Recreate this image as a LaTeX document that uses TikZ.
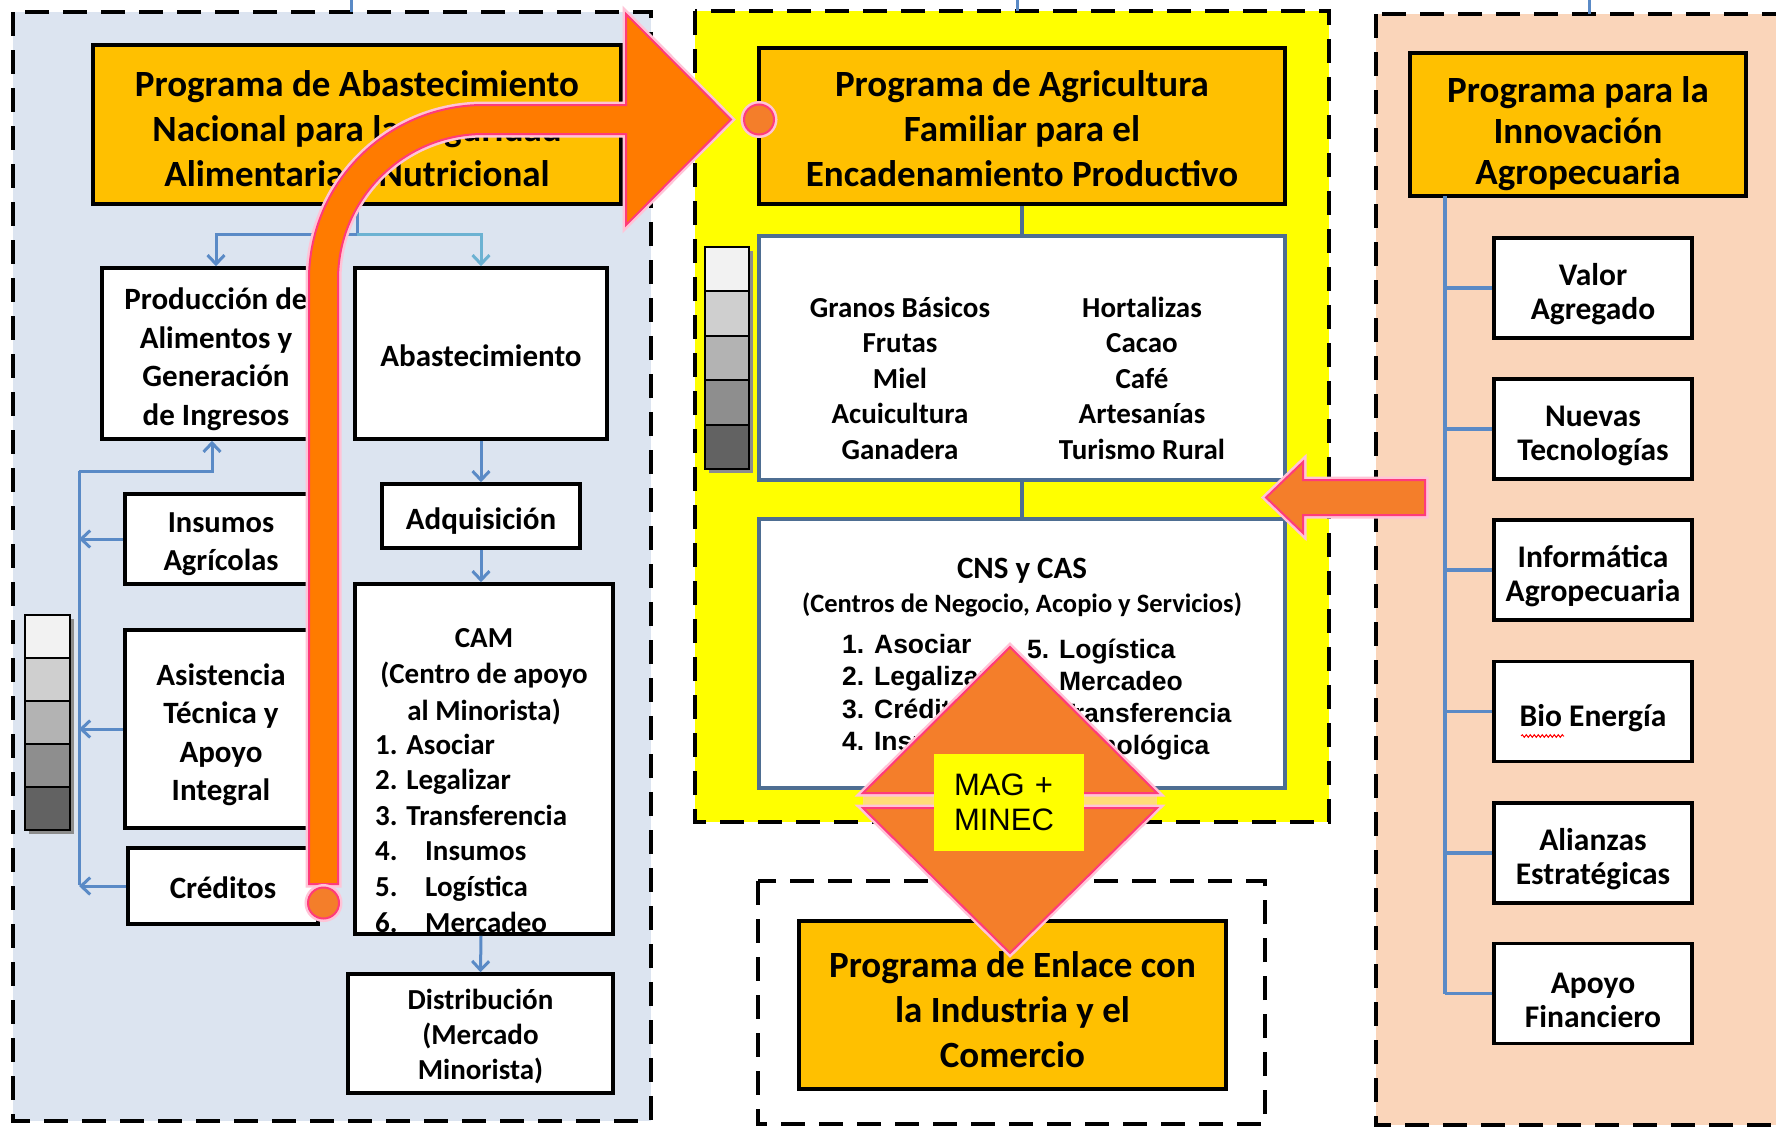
\documentclass[tikz,border=0pt]{standalone}
\usepackage{fontspec}
\setmainfont{Carlito}
\newfontfamily\arialfont{Liberation Sans}
\usetikzlibrary{arrows.meta,decorations.pathmorphing}
\definecolor{leftbg}{HTML}{DCE4F0}
\definecolor{rightbg}{HTML}{FAD5BA}
\definecolor{midbg}{HTML}{FFFF00}
\definecolor{titlefill}{HTML}{FFC000}
\definecolor{conblue}{HTML}{5A8AC6}
\definecolor{conteal}{HTML}{6CB2D2}
\definecolor{boxblue}{HTML}{4E6E92}
\definecolor{arrorange}{HTML}{FF7B00}
\definecolor{dorange}{HTML}{F47E2A}
\definecolor{pinkedge}{HTML}{FF3B7A}
\definecolor{stripecol}{HTML}{FFDC78}
\definecolor{gA}{HTML}{F2F2F2}
\definecolor{gB}{HTML}{CFCFCF}
\definecolor{gC}{HTML}{B3B3B3}
\definecolor{gD}{HTML}{8E8E8E}
\definecolor{gE}{HTML}{626262}
\begin{document}
\begin{tikzpicture}[x=1pt,y=-1pt,
  panel/.style={draw=black, line width=4pt, dash pattern=on 24pt off 14pt},
  titlebox/.style={draw=black, line width=4.5pt, fill=titlefill, inner sep=0pt},
  titletxt/.style={inner sep=0pt, align=center, font=\bfseries\fontsize{37}{45}\selectfont},
  wbox/.style={draw=black, line width=3.5pt, fill=white, inner sep=0pt},
  wtxt/.style={inner sep=0pt, align=center, font=\bfseries\fontsize{31}{38.5}\selectfont},
  rtxt/.style={wtxt, font=\bfseries\fontsize{31.5}{34}\selectfont},
  bbox/.style={draw=boxblue, line width=4pt, fill=white, inner sep=0pt},
  txt/.style={inner sep=0pt, font=\bfseries\fontsize{29}{35.5}\selectfont},
  conn/.style={draw=conblue, line width=3pt},
  connt/.style={draw=conteal, line width=3pt},
  mconn/.style={draw=boxblue, line width=3.5pt},
  arrowtipc/.style={-{Straight Barb[length=9pt,width=17pt]}},
  glow/.style={preaction={draw=pinkedge!30, line width=7pt}},
  orangeshape/.style={draw=pinkedge, line width=2pt, glow}
]
\clip (0,0) rectangle (1776,1127);
\fill[white] (0,0) rectangle (1776,1127);

% panels
\fill[leftbg] (13,12) rectangle (651,1121);
\draw[panel] (13,12) rectangle (651,1121);
\fill[midbg] (695,11) rectangle (1329,822);
\draw[panel] (695,11) rectangle (1329,822);
\fill[rightbg] (1376,14) rectangle (1800,1125);
\draw[panel] (1376,14) rectangle (1800,1125);
\draw[panel] (758,881) rectangle (1265,1124);

% top stubs
\coordinate (s1a) at (351,0); \coordinate (s1b) at (351,12);
\coordinate (s2a) at (1017,0); \coordinate (s2b) at (1017,11);
\coordinate (s3a) at (1589,0); \coordinate (s3b) at (1589,14);
\draw[conn] (s1a) -- (s1b);
\draw[conn] (s2a) -- (s2b);
\draw[conn] (s3a) -- (s3b);

% gray bars
\fill[black!45] (29,619) rectangle (74,834);
\foreach \i/\c in {0/gA,1/gB,2/gC,3/gD,4/gE}
  \filldraw[fill=\c, draw=black, line width=2pt] (25,615+43*\i) rectangle (70,658+43*\i);
\fill[black!45] (709,251) rectangle (753,473);
\foreach \i/\c in {0/gA,1/gB,2/gC,3/gD,4/gE}
  \filldraw[fill=\c, draw=black, line width=2pt] (705,247+44.4*\i) rectangle (749,291.4+44.4*\i);

% left panel
\node[titlebox, minimum width=528pt, minimum height=159pt] (t1) at (357,124.5) {};
\node[titletxt] (t1txt) at ([yshift=-7pt]t1.center)
  {Programa de Abastecimiento\\Nacional para la Seguridad\\Alimentaria y Nutricional};
\node[wbox, minimum width=228pt, minimum height=171pt] (prod) at (216,353.5) {};
\node[wtxt] (prodtxt) at ([yshift=-5.5pt]prod.center)
  {Producción de\\Alimentos y\\Generación\\de Ingresos};
\node[wbox, minimum width=252pt, minimum height=171pt] (abas) at (481,353.5) {};
\node[wtxt] (abastxt) at ([yshift=-2pt]abas.center) {Abastecimiento};
\node[wbox, minimum width=198pt, minimum height=64pt] (adq) at (481,516) {};
\node[wtxt] (adqtxt) at ([yshift=-5.5pt]adq.center) {Adquisición};
\node[wbox, minimum width=258pt, minimum height=350pt] (cam) at (484,759) {};
\node[txt, align=center, font=\bfseries\fontsize{29}{36.5}\selectfont] (camh) at (484,676.5)
  {CAM\\(Centro de apoyo\\al Minorista)};
\node[txt, align=left, anchor=west, font=\bfseries\fontsize{29}{35.6}\selectfont] (caml) at (375,833)
  {1. Asociar\\2. Legalizar\\3. Transferencia\\\makebox[50pt][l]{4.}Insumos\\\makebox[50pt][l]{5.}Logística\\\makebox[50pt][l]{6.}Mercadeo};
\node[wbox, minimum width=265pt, minimum height=119pt] (dist) at (480.5,1033.5) {};
\node[wtxt, font=\bfseries\fontsize{29}{35}\selectfont] (disttxt) at ([yshift=-3.5pt]dist.center)
  {Distribución\\(Mercado\\Minorista)};
\node[wbox, minimum width=192pt, minimum height=90pt] (ins) at (221,539) {};
\node[wtxt, font=\bfseries\fontsize{30.5}{37.5}\selectfont] (instxt) at ([yshift=-5pt]ins.center)
  {Insumos\\Agrícolas};
\node[wbox, minimum width=192pt, minimum height=198pt] (asis) at (221,729) {};
\node[wtxt] (asistxt) at ([yshift=-5.5pt]asis.center)
  {Asistencia\\Técnica y\\Apoyo\\Integral};
\node[wbox, minimum width=190pt, minimum height=76pt] (cred) at (223,886) {};
\node[wtxt] (credtxt) at ([yshift=-2pt]cred.center) {Créditos};

% left connectors
\coordinate (br1) at (357,234.5);
\draw[conn] (t1.south) -- (br1);
\draw[conn, arrowtipc] (br1) -| (prod.north);
\draw[connt, arrowtipc] (br1) -| (abas.north);
\draw[conn, arrowtipc] (abas.south) -- (adq.north);
\draw[conn, arrowtipc] (adq.south) -- ([xshift=-3pt]cam.north);
\draw[conn, arrowtipc] ([xshift=-3pt]cam.south) -- (dist.north);
\coordinate (fbtop) at (79,471);
\coordinate (fbbot) at (79,885);
\draw[conn] (fbtop) -- (fbbot);
\draw[conn, arrowtipc] (fbtop) -| ([xshift=-4pt]prod.south);
\draw[conn, arrowtipc] (ins.west) -- (ins.west -| fbtop);
\draw[conn, arrowtipc] (asis.west) -- (asis.west -| fbtop);
\draw[conn, arrowtipc] (cred.west) -- (cred.west -| fbtop);

% middle panel
\node[titlebox, minimum width=526pt, minimum height=156pt] (t2) at (1022,126) {};
\node[titletxt] (t2txt) at ([yshift=-2.5pt]t2.center)
  {Programa de Agricultura\\Familiar para el\\Encadenamiento Productivo};
\node[bbox, minimum width=526pt, minimum height=244pt] (prodbox) at (1022,358) {};
\node[txt, align=center] (pl) at (900,378)
  {Granos Básicos\\Frutas\\Miel\\Acuicultura\\Ganadera};
\node[txt, align=center] (pr) at (1142,378)
  {Hortalizas\\Cacao\\Café\\Artesanías\\Turismo Rural};
\node[bbox, minimum width=526pt, minimum height=269pt] (cns) at (1022,653.5) {};
\node[txt, font=\bfseries\fontsize{31}{36}\selectfont] (cnsh) at (1022,570.5) {CNS y CAS};
\node[txt, font=\bfseries\fontsize{26.5}{32}\selectfont] (cnss) at (1022,604.5) {(Centros de Negocio, Acopio y Servicios)};
\node[txt, align=left, anchor=west, font=\arialfont\bfseries\fontsize{26.5}{32.5}\selectfont] (cnsl) at (842,692.5)
  {1. Asociar\\2. Legalizar\\3. Créditos\\4. Insumos};
\node[txt, align=left, anchor=west, font=\arialfont\bfseries\fontsize{26.5}{32}\selectfont] (cnsr) at (1027,699.5)
  {5. Logística\\6. Mercadeo\\7. Transferencia\\\hphantom{7.\ }Tecnológica};
\draw[mconn] (t2.south) -- (prodbox.north);
\draw[mconn] (prodbox.south) -- (cns.north);

% bottom middle
\node[titlebox, minimum width=427pt, minimum height=168pt] (t4) at (1012.5,1005) {};
\node[titletxt] (t4txt) at ([yshift=-4.5pt]t4.center)
  {Programa de Enlace con\\la Industria y el\\Comercio};

% right panel
\node[titlebox, minimum width=336pt, minimum height=143pt] (t3) at (1578,124.5) {};
\node[titletxt, font=\bfseries\fontsize{37}{41}\selectfont] (t3txt) at ([yshift=-9pt]t3.center)
  {Programa para la\\Innovación\\Agropecuaria};
\foreach \n/\yy/\tx in {r1/288/{Valor\\Agregado}, r2/429/{Nuevas\\Tecnologías}, r3/570/{Informática\\Agropecuaria},
    r4/711.5/{Bio Energía}, r5/853/{Alianzas\\Estratégicas}, r6/993.5/{Apoyo\\Financiero}}{
  \node[wbox, minimum width=198pt, minimum height=100pt] (\n) at (1593,\yy) {};
  \node[rtxt] (\n txt) at ([yshift=-6.5pt]\n.center) {\tx};
}
\draw[red, line width=1pt, decorate, decoration={snake, amplitude=1.3pt, segment length=4pt}] (1521,736) -- (1564,736);
\coordinate (rv0) at (1445,196);
\coordinate (rv1) at (1445,993.5);
\draw[conn, line width=4pt] (rv0) -- (rv1);
\foreach \n in {r1,r2,r3,r4,r5,r6}
  \draw[conn, line width=3.5pt] (\n.west) -- (\n.west -| rv0);

% big orange arrow
\fill[arrorange, orangeshape]
  (309,884) -- (309,279.5) arc[start angle=180, end angle=270, radius=174.5]
  -- (626,105) -- (626,14) -- (731,119.5) -- (626,225) -- (626,134) -- (483.5,134)
  arc[start angle=270, end angle=180, radius=145.5] -- (338,884) -- cycle;
\node[circle, fill=dorange, orangeshape, minimum size=31pt, inner sep=0pt] (cA) at (323.5,903) {};
\node[circle, fill=dorange, orangeshape, minimum size=30pt, inner sep=0pt] (cB) at (759,119.5) {};

% small left arrow
\fill[dorange, orangeshape] (1425,480) -- (1303,480) -- (1303,462) -- (1266,497.5)
  -- (1303,533) -- (1303,515) -- (1425,515) -- cycle;

% diamond
\fill[stripecol] (863,793) rectangle (1157,808);
\fill[dorange, orangeshape] (863,793) -- (1010,647) -- (1157,793) -- cycle;
\fill[dorange, orangeshape] (863,808) -- (1157,808) -- (1010,953) -- cycle;
\node[fill=midbg, minimum width=150pt, minimum height=97pt, inner xsep=20pt, inner ysep=0pt,
  text width=110pt, align=left, font=\arialfont\fontsize{31}{35}\selectfont] (mag) at (1009,802)
  {MAG +\\MINEC};
\end{tikzpicture}
\end{document}
